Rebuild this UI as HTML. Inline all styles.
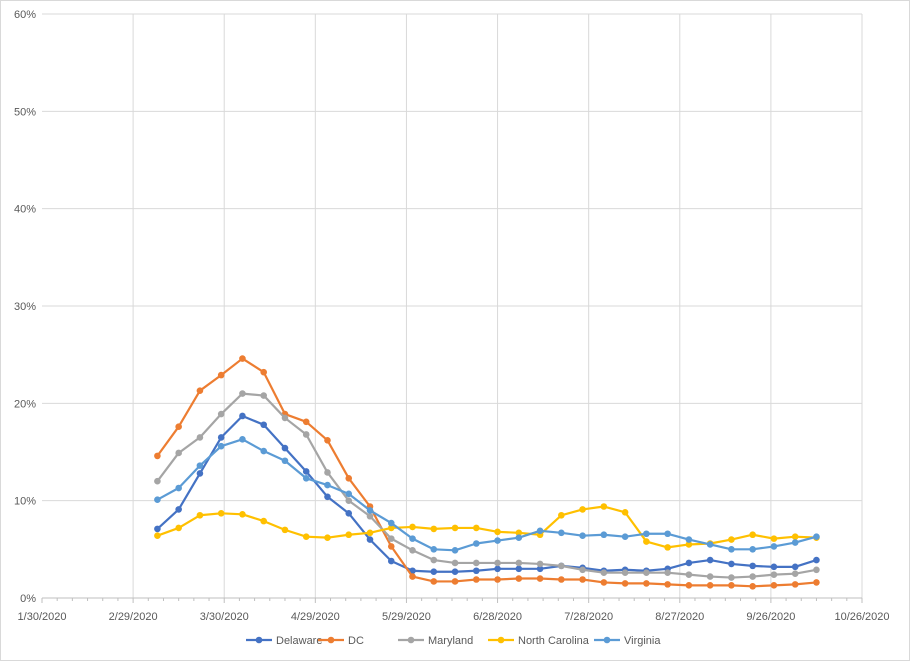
<!DOCTYPE html>
<html><head><meta charset="utf-8"><style>
body{margin:0;background:#fff;font-family:"Liberation Sans",sans-serif}
svg text{font-family:"Liberation Sans",sans-serif;font-size:11px;fill:#595959}
</style></head><body>
<svg id="c" width="910" height="661">
<rect x="0.5" y="0.5" width="909" height="660" fill="#fff" stroke="#d9d9d9"/>
<g id="grid"></g>
<g id="axes"></g>
<g id="series"></g>
<g id="legend"></g>
</svg>
<script>
const xTickLabels=["1/30/2020","2/29/2020","3/30/2020","4/29/2020","5/29/2020","6/28/2020","7/28/2020","8/27/2020","9/26/2020","10/26/2020"];
const yTickLabels=["0%","10%","20%","30%","40%","50%","60%"];
const seriesNames=["Delaware","DC","Maryland","North Carolina","Virginia"];
const firstDay=38; // days after 1/30/2020
const stepDays=7;
const delaware=[7.1,9.1,12.8,16.5,18.7,17.8,15.4,13.0,10.4,8.7,6.0,3.8,2.8,2.7,2.7,2.8,3.0,3.0,3.0,3.3,3.1,2.8,2.9,2.8,3.0,3.6,3.9,3.5,3.3,3.2,3.2,3.9];
const dc=[14.6,17.6,21.3,22.9,24.6,23.2,18.9,18.1,16.2,12.3,9.4,5.3,2.2,1.7,1.7,1.9,1.9,2.0,2.0,1.9,1.9,1.6,1.5,1.5,1.4,1.3,1.3,1.3,1.2,1.3,1.4,1.6];
const maryland=[12.0,14.9,16.5,18.9,21.0,20.8,18.5,16.8,12.9,10.0,8.4,6.1,4.9,3.9,3.6,3.6,3.6,3.6,3.5,3.3,2.9,2.6,2.6,2.6,2.6,2.4,2.2,2.1,2.2,2.4,2.5,2.9];
const northCarolina=[6.4,7.2,8.5,8.7,8.6,7.9,7.0,6.3,6.2,6.5,6.7,7.2,7.3,7.1,7.2,7.2,6.8,6.7,6.5,8.5,9.1,9.4,8.8,5.8,5.2,5.5,5.6,6.0,6.5,6.1,6.3,6.2];
const virginia=[10.1,11.3,13.6,15.6,16.3,15.1,14.1,12.3,11.6,10.7,9.0,7.7,6.1,5.0,4.9,5.6,5.9,6.2,6.9,6.7,6.4,6.5,6.3,6.6,6.6,6.0,5.5,5.0,5.0,5.3,5.7,6.3];
const colors=["#4472c4","#ed7d31","#a5a5a5","#ffc000","#5b9bd5"];
const allSeries=[delaware,dc,maryland,northCarolina,virginia];
const NS="http://www.w3.org/2000/svg";
const X0=42,X1=862,Y0=598,Y1=14,DMAX=270,VMAX=60;
const xs=d=>X0+(X1-X0)*d/DMAX;
const ys=v=>Y0-(Y0-Y1)*v/VMAX;
function mk(t,a,p){const e=document.createElementNS(NS,t);for(const k in a)e.setAttribute(k,a[k]);p.appendChild(e);return e;}
const grid=document.getElementById('grid'),axes=document.getElementById('axes');
yTickLabels.forEach((l,i)=>{const y=ys(i*10);
 if(i>0){const g=mk('line',{x1:X0,x2:X1,y1:y,y2:y,stroke:'#d9d9d9'},grid);}
 const t=mk('text',{x:X0-6,y:y+4,'text-anchor':'end'},axes);t.textContent=l;
 });
xTickLabels.forEach((l,i)=>{const x=xs(i*30);
 if(i>0){const g=mk('line',{x1:x,x2:x,y1:Y1,y2:Y0,stroke:'#d9d9d9'},grid);}
 const t=mk('text',{x:x,y:Y0+22,'text-anchor':'middle'},axes);t.textContent=l;
 });
for(let d=0;d<=DMAX;d+=5){const x=xs(d);const tk=mk('line',{x1:x,x2:x,y1:Y0,y2:Y0+(d%30==0?5:3),stroke:'#bfbfbf'},axes);}
const ax=mk('line',{x1:X0,x2:X1,y1:Y0,y2:Y0,stroke:'#bfbfbf'},axes);

const sg=document.getElementById('series');
allSeries.forEach((s,si)=>{const g=mk('g',{},sg);
 
 
 const pts=s.map((v,i)=>xs(firstDay+i*stepDays)+','+ys(v)).join(' ');
 const pl=mk('polyline',{points:pts,fill:'none',stroke:colors[si],'stroke-width':2.2,'stroke-linejoin':'round'},g);
 
 s.forEach((v,i)=>{const c=mk('circle',{cx:xs(firstDay+i*stepDays),cy:ys(v),r:3.3,fill:colors[si]},g);
  });
});
const lg=document.getElementById('legend');
const lx=[246,318,398,488,594];
seriesNames.forEach((n,i)=>{const g=mk('g',{},lg);
 
 mk('line',{x1:lx[i],x2:lx[i]+26,y1:640,y2:640,stroke:colors[i],'stroke-width':2.2},g);
 mk('circle',{cx:lx[i]+13,cy:640,r:3.3,fill:colors[i]},g);
 const t=mk('text',{x:lx[i]+30,y:644},g);t.textContent=n;});
</script>
</body></html>
